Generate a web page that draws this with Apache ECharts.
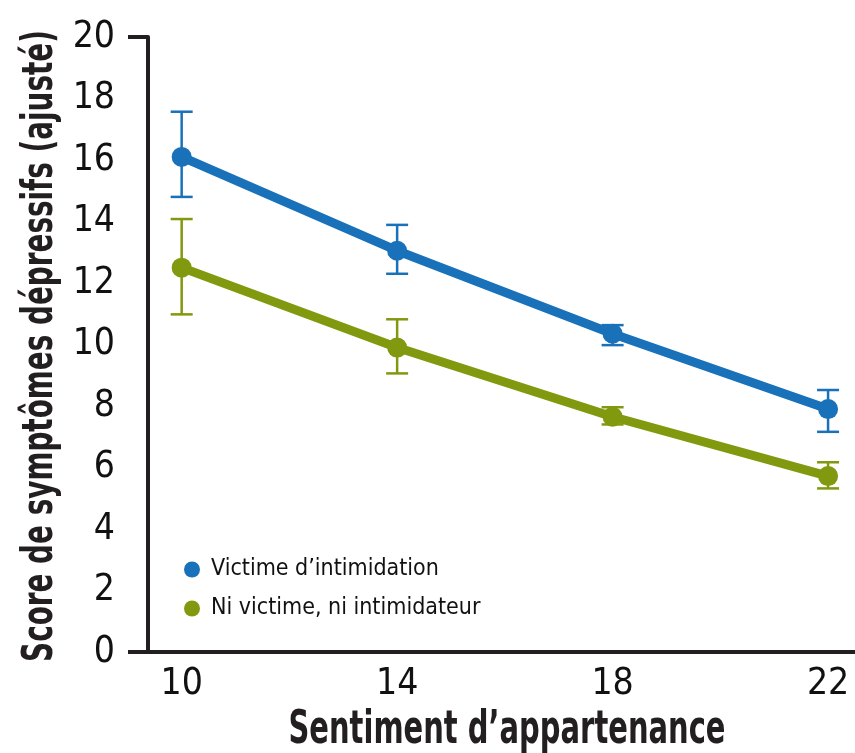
<!DOCTYPE html>
<html>
<head>
<meta charset="utf-8">
<script src="https://cdn.jsdelivr.net/npm/echarts@6/dist/echarts.min.js"></script>
<style>
  html, body { margin: 0; padding: 0; background: #ffffff; }
  #chart { width: 855px; height: 753px; }
</style>
</head>
<body>
<div id="chart"></div>
<script>
// Sentiment d'appartenance (x) vs. score de symptômes dépressifs ajusté (y)
const belonging = [10, 14, 18, 22];
const yTicks = [0, 2, 4, 6, 8, 10, 12, 14, 16, 18, 20];

const xTitle = 'Sentiment d\u2019appartenance';
const yTitle = 'Score de symptômes dépressifs (ajusté)';

const victimName = 'Victime d\u2019intimidation';
const victimMean = [16.1, 13.05, 10.35, 7.9];
const victimLow  = [14.8, 12.3, 9.98, 7.16];
const victimHigh = [17.57, 13.89, 10.63, 8.52];

const neitherName = 'Ni victime, ni intimidateur';
const neitherMean = [12.5, 9.9, 7.65, 5.72];
const neitherLow  = [10.98, 9.06, 7.4, 5.32];
const neitherHigh = [14.08, 10.82, 7.96, 6.17];

const BLUE = '#1871b9';
const GREEN = '#80990e';
const AXIS = '#231f20';
const FONT = '"Liberation Sans Narrow", "DejaVu Sans Condensed", sans-serif';

function pairs(xs, ys) { return xs.map((x, i) => [x, ys[i]]); }
function bars(xs, lo, hi) { return xs.map((x, i) => [x, lo[i], hi[i]]); }

// Vertical error bar with caps, placed through the axis scales
function errorBar(color) {
  return function (params, api) {
    const x = api.value(0);
    const lo = api.coord([x, api.value(1)]);
    const hi = api.coord([x, api.value(2)]);
    const half = 11;
    const style = { stroke: color, lineWidth: 2.5 };
    return {
      type: 'group',
      children: [
        { type: 'line', shape: { x1: lo[0], y1: lo[1], x2: hi[0], y2: hi[1] }, style },
        { type: 'line', shape: { x1: lo[0] - half, y1: lo[1], x2: lo[0] + half, y2: lo[1] }, style },
        { type: 'line', shape: { x1: hi[0] - half, y1: hi[1], x2: hi[0] + half, y2: hi[1] }, style }
      ]
    };
  };
}

const chart = echarts.init(document.getElementById('chart'), null, { renderer: 'canvas' });
chart.setOption({
  animation: false,
  backgroundColor: '#ffffff',
  grid: { left: 148, right: 0, top: 37, bottom: 101, containLabel: false, outerBoundsMode: 'none' },
  legend: {
    orient: 'vertical',
    left: 179,
    top: 553,
    itemGap: 16,
    itemWidth: 16,
    itemHeight: 16,
    icon: 'circle',
    data: [victimName, neitherName],
    textStyle: { fontFamily: FONT, fontSize: 23, color: '#111111', padding: [0, 0, 0, 6] }
  },
  // Condensed bold axis titles
  graphic: [
    {
      type: 'text',
      x: 507,
      y: 731,
      scaleX: 0.7,
      style: {
        text: xTitle,
        fontFamily: FONT,
        fontWeight: 'bold',
        fontSize: 46,
        fill: AXIS,
        align: 'center',
        verticalAlign: 'middle'
      }
    },
    {
      type: 'text',
      x: 41,
      y: 346,
      rotation: Math.PI / 2,
      scaleX: 0.72,
      style: {
        text: yTitle,
        fontFamily: FONT,
        fontWeight: 'bold',
        fontSize: 43,
        fill: AXIS,
        align: 'center',
        verticalAlign: 'middle'
      }
    }
  ],
  xAxis: {
    type: 'value',
    min: 9.375,
    max: 22.5,
    axisLine: { show: true, lineStyle: { color: AXIS, width: 4 } },
    axisTick: { show: false },
    splitLine: { show: false },
    axisLabel: {
      customValues: belonging,
      margin: 14,
      fontFamily: FONT,
      fontSize: 37,
      color: '#111111'
    }
  },
  yAxis: {
    type: 'value',
    min: 0,
    max: 20,
    interval: 2,
    axisLine: { show: true, lineStyle: { color: AXIS, width: 4 } },
    axisTick: { show: true, customValues: [0, 20], length: 20, lineStyle: { color: AXIS, width: 4 } },
    splitLine: { show: false },
    axisLabel: {
      customValues: yTicks,
      margin: 33,
      fontFamily: FONT,
      fontSize: 37,
      color: '#111111'
    }
  },
  series: [
    {
      name: victimName,
      type: 'line',
      data: pairs(belonging, victimMean),
      symbol: 'circle',
      symbolSize: 20,
      itemStyle: { color: BLUE },
      lineStyle: { color: BLUE, width: 9 },
      z: 3
    },
    {
      name: neitherName,
      type: 'line',
      data: pairs(belonging, neitherMean),
      symbol: 'circle',
      symbolSize: 20,
      itemStyle: { color: GREEN },
      lineStyle: { color: GREEN, width: 9 },
      z: 3
    },
    {
      name: victimName + ' IC',
      type: 'custom',
      renderItem: errorBar(BLUE),
      data: bars(belonging, victimLow, victimHigh),
      encode: { x: 0, y: [1, 2] },
      z: 2
    },
    {
      name: neitherName + ' IC',
      type: 'custom',
      renderItem: errorBar(GREEN),
      data: bars(belonging, neitherLow, neitherHigh),
      encode: { x: 0, y: [1, 2] },
      z: 2
    }
  ]
});
</script>
</body>
</html>
